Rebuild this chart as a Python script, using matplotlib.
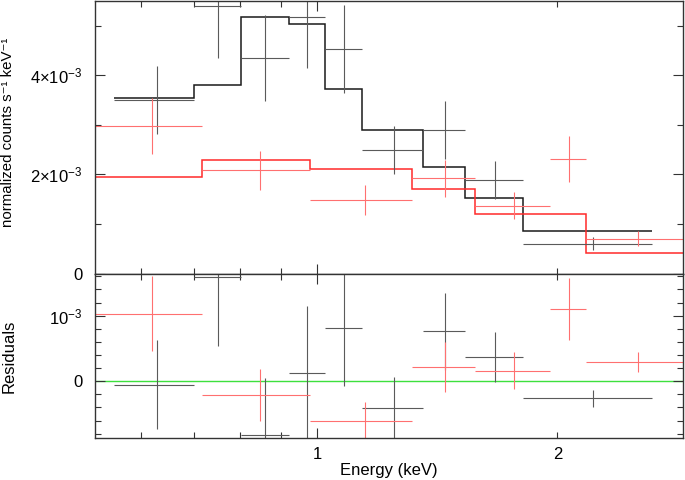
import numpy as np
import matplotlib
matplotlib.use('Agg')
import matplotlib.pyplot as plt
from matplotlib.ticker import FixedLocator, FuncFormatter, MultipleLocator

plt.rcParams['font.family'] = ['Liberation Sans', 'DejaVu Sans']
plt.rcParams['mathtext.fontset'] = 'custom'
plt.rcParams['mathtext.rm'] = 'Liberation Sans'
plt.rcParams['mathtext.it'] = 'Liberation Sans:italic'
plt.rcParams['mathtext.bf'] = 'Liberation Sans:bold'

SCALE = 1e-3

# spectrum 1 (black): bin edges in keV, values in units of 1e-3
edges1 = [0.556, 0.701, 0.801, 0.920, 1.022, 1.139, 1.358, 1.533, 1.811, 2.627]
data1 = [3.50, 5.39, 4.35, 5.17, 4.53, 2.49, 2.90, 1.89, 0.60]
err1 = [0.68, 1.05, 0.87, 1.02, 0.89, 0.48, 0.59, 0.38, 0.13]
model1 = [3.55, 3.80, 5.17, 5.04, 3.72, 2.90, 2.14, 1.52, 0.86]

# spectrum 2 (red)
edges2 = [0.525, 0.716, 0.979, 1.314, 1.577, 1.956, 2.175, 2.88]
data2 = [2.98, 2.08, 1.49, 1.92, 1.37, 2.31, 0.70]
err2 = [0.57, 0.40, 0.30, 0.38, 0.28, 0.47, 0.15]
model2 = [1.95, 2.29, 2.10, 1.70, 1.21, 1.21, 0.41]

top_ticks = [0, 2, 4]
top_labels = ['0', r'$\mathregular{2{\times}10^{-3}}$', r'$\mathregular{4{\times}10^{-3}}$']
res_ticks = [0, 1]
res_labels = ['0', r'$\mathregular{10^{-3}}$']


def draw_spectrum(ax_top, ax_res, edges, data, err, model, dcolor, mcolor):
    edges = np.array(edges)
    data = np.array(data) * SCALE
    err = np.array(err) * SCALE
    model = np.array(model) * SCALE
    centers = (edges[:-1] + edges[1:]) / 2
    half = (edges[1:] - edges[:-1]) / 2
    ax_top.errorbar(centers, data, xerr=half, yerr=err, fmt='none',
                    ecolor=dcolor, elinewidth=0.8, capsize=0)
    ax_top.stairs(model, edges, baseline=None, color=mcolor, lw=1.1)
    ax_res.errorbar(centers, data - model, xerr=half, yerr=err, fmt='none',
                    ecolor=dcolor, elinewidth=0.8, capsize=0)


fig = plt.figure(figsize=(6.85, 4.8), dpi=100)
W, H = 685.0, 480.0
x0, x1 = 95, 683
ax1 = fig.add_axes([x0 / W, 1 - 273.5 / H, (x1 - x0) / W, (273.5 - 1) / H])
ax2 = fig.add_axes([x0 / W, 1 - 438.3 / H, (x1 - x0) / W, (438.3 - 273.5) / H])

ax2.axhline(0, color='#3de03d', lw=1.0, zorder=1)

draw_spectrum(ax1, ax2, edges1, data1, err1, model1, '#5a5a5a', '#1a1a1a')
draw_spectrum(ax1, ax2, edges2, data2, err2, model2, '#ff7070', '#ff2a2a')

for ax in (ax1, ax2):
    ax.set_xscale('log')
    ax.set_xlim(0.526, 2.875)
    ax.xaxis.set_major_locator(FixedLocator([1]))
    ax.xaxis.set_minor_locator(FixedLocator([0.6, 0.7, 0.8, 0.9, 2]))
    ax.xaxis.set_major_formatter(FuncFormatter(lambda v, p: '%g' % v))
    ax.xaxis.set_minor_formatter(FuncFormatter(lambda v, p: '2' if abs(v - 2) < 1e-6 else ''))
    ax.tick_params(which='both', direction='in', top=True, right=True,
                   labelsize=12, color='#333333', width=0.8, pad=6)
    ax.tick_params(which='major', length=7)
    ax.tick_params(which='minor', length=4)
    for s in ax.spines.values():
        s.set_color('#333333')
        s.set_linewidth(1.0)

ax1.tick_params(which='both', labelbottom=False)
ax1.tick_params(axis='y', pad=9)
ax2.tick_params(axis='y', pad=9)

ax1.set_ylim(0, 5.5 * SCALE)
ax1.set_yticks([t * SCALE for t in top_ticks], labels=top_labels)
ax1.yaxis.set_minor_locator(MultipleLocator(1 * SCALE))

ax2.set_ylim(-0.87 * SCALE, 1.643 * SCALE)
ax2.set_yticks([t * SCALE for t in res_ticks], labels=res_labels)
ax2.yaxis.set_minor_locator(MultipleLocator(0.2 * SCALE))

ax1.set_ylabel('normalized counts s\u207b\u00b9 keV\u207b\u00b9', fontsize=10.8)
ax1.yaxis.set_label_coords(-0.136, 0.517)
ax2.set_ylabel('Residuals', fontsize=12)
ax2.yaxis.set_label_coords(-0.134, 0.5)
ax2.set_xlabel('Energy (keV)', fontsize=12)
ax2.xaxis.set_label_coords(0.5, -0.15)

fig.savefig('out.png', dpi=100)
